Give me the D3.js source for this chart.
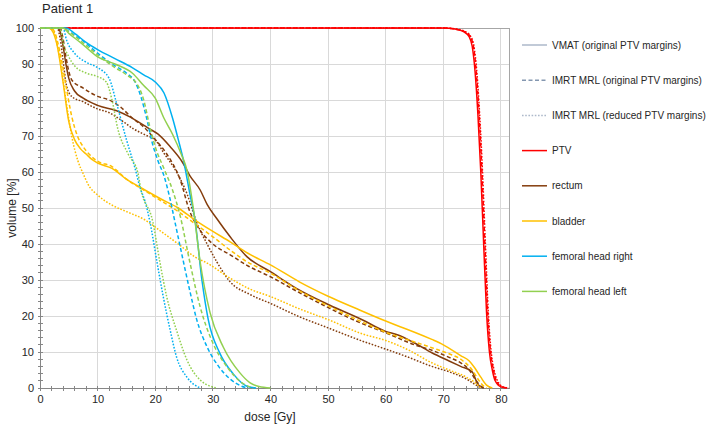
<!DOCTYPE html>
<html><head><meta charset="utf-8">
<script src="https://cdn.jsdelivr.net/npm/d3@7"></script>
<style>
body{margin:0;background:#fff;}
svg text{font-family:"Liberation Sans",Arial,sans-serif;fill:#262626;}
</style></head>
<body><svg id="c" width="710" height="429"></svg>
<script>
// ---- data: [dose Gy, volume %] ----
const ptvVmat    = [[0,100],[70,100],[72,99.7],[73.5,99],[74.5,97.5],[75,95],[75.5,88],[76,76],[76.5,60],[77,40],[77.5,21],[78,10],[78.5,5],[79,2],[80,0.3],[81,0]];
const ptvImrt    = [[0,100],[70,100],[72,99.7],[73.7,99],[74.7,97.5],[75.2,95],[75.7,88],[76.2,76],[76.7,60],[77.2,40],[77.7,21],[78.2,10],[78.7,5],[79.2,2],[80.2,0.3],[81.2,0]];
const ptvRed     = [[0,100],[70,100],[72.2,99.7],[73.8,99],[74.8,97.5],[75.3,95],[75.8,88],[76.3,76],[76.8,60],[77.3,40],[77.8,21],[78.3,10],[78.8,5],[79.4,2],[80.4,0.3],[81.4,0]];

const rectumVmat = [[0,100],[3,100],[3.5,99],[4,95],[4.5,90],[5,86],[6,82.5],[7.5,80.5],[10,78.5],[13.3,77],[15.6,75.3],[17,74],[19,72],[20.5,70.5],[22.6,67],[24.8,62.5],[26,59],[27.8,55],[29,51],[30.7,47],[33,42],[35.9,36.5],[40,32.3],[44.5,27.7],[50.3,23],[56,18.9],[60,15.7],[62,14.8],[65,12.5],[68,9.8],[71,7.5],[73,6],[75,4.5],[76,1],[77,0]];
const rectumImrt = [[0,100],[3.5,100],[4,97],[4.5,92],[5,88],[5.5,85.6],[7.5,83.3],[10,81],[12,80],[14,78],[16,75],[18,72.5],[20,69],[22,65],[24.3,58],[26,49],[27.5,44.5],[30,40],[33,37],[36,34],[40,30.9],[45,26.5],[50.3,22.1],[55,18.5],[60.2,15.2],[65,12],[68,10.5],[71,8.5],[73,7],[74.5,5],[75.5,2.5],[76.5,0.5],[77,0]];
const rectumRed  = [[0,100],[3,100],[3.5,97],[4,91],[4.6,84],[5.5,81],[7.5,79.5],[10,77.5],[12,76.5],[14,74.5],[16.2,72],[18,70.5],[20.2,68.5],[21.4,65.5],[23.7,60],[25.5,54],[27.2,46],[29,40],[30.7,35],[33,29.5],[36.4,26],[40,23.5],[45,19.8],[50,16.7],[56,13],[60,10.8],[64,8.5],[68,6],[71,4.5],[74,2.5],[75.5,1],[76.5,0]];

const bladderVmat = [[0,100],[1.5,100],[2,99.5],[3,95],[4,85],[5,74],[6,69],[7,66.5],[8,65],[9,63.5],[10,62.5],[12.5,61],[15,58],[18.2,55],[21,52.5],[24,50],[26.6,47],[30,43.5],[33,40.6],[36,37.5],[40,34.2],[45,29.5],[50,25.5],[55,22],[60,18.6],[62.5,17],[65,15.5],[68,13.5],[70,12],[73,9],[74.5,7.5],[75.5,5.5],[76.5,3],[77.5,0.8],[78.5,0]];
const bladderImrt = [[0,100],[2,100],[2.5,99],[3.5,93],[4.5,84],[5.5,75.5],[6.5,70],[7.5,67],[8.5,65],[10,63],[12.5,61.5],[15,58],[18,55],[21,52],[24,49],[27,45.5],[30,42],[33,38.3],[36,35],[40,31.9],[45,27],[50,22.8],[55,19],[60,15.5],[65,12.8],[68,11.2],[71,9.5],[73,8],[75,5],[76,2.5],[77,0.5],[77.5,0]];
const bladderRed  = [[0,100],[2,100],[2.5,98.5],[3.5,91],[4.5,80],[5.5,70],[6.6,63],[7.5,59.5],[8.4,56.4],[10,53.6],[12.5,50.8],[15,49],[18.2,46.7],[21,43.5],[24,40],[26.9,36.4],[29,34.7],[33,30.5],[36.4,27.5],[40,25.4],[45,22],[50,19],[56,15],[60,13.2],[64,10.5],[68,7],[71,5],[74,3],[75.5,1.5],[76.5,0]];

const femRVmat = [[0,100],[4.5,100],[6,98.5],[8,96],[10,94],[13,91.5],[16,89],[18,87],[20,85],[21.5,82],[23,75],[24,69],[25,62.5],[26,54],[26.9,46.7],[28.1,30],[29.2,19],[31.2,9.7],[33.5,4],[35.9,0.5],[37.5,0]];
const femRImrt = [[0,100],[4,100],[5,99],[7,97],[10,93],[13,89.5],[15,87.5],[16.5,85],[17.5,81],[18.5,75],[19.5,68],[20.5,63],[21.5,59],[22.5,53],[23.5,45.5],[24.5,38],[26,27],[27.2,19],[29,11.4],[31,6],[33,2.5],[35,0.5],[36,0]];
const femRRed  = [[0,100],[4,100],[4.6,96.7],[6,93],[8,90.5],[10,89],[12,86],[13.3,79],[15,69],[16.5,61],[17.4,55.5],[18.2,52],[19.1,46],[20.3,35],[21.4,25.3],[22.6,16],[23.7,8.6],[25.5,3],[27.8,0]];

const femLVmat = [[0,100],[4,100],[5,98.5],[7,96],[10,92],[13,90],[16,87.5],[18,84],[20,80.5],[21.5,75],[23,70.5],[24.5,65],[25.5,60.5],[26.6,50],[27.8,35],[29.5,21],[31.8,11.4],[34.7,4.2],[36.4,1.5],[38,0.4],[40,0]];
const femLImrt = [[0,100],[4,100],[5,99],[7,96.5],[10,92.5],[13,89],[15,87],[17,84],[18,80],[19,73],[20,67],[21.5,61],[23,55],[24.3,48],[26,35],[27.8,22.5],[30,12.5],[32.5,5.8],[35,1.5],[37,0]];
const femLRed  = [[0,100],[3.5,100],[4,96],[5,92],[6,89.5],[8,87.5],[10,86.5],[11.5,85],[12.5,80],[13.5,72],[15.3,65],[17,59.7],[17.4,56],[19.6,46],[20.8,35],[22,25.3],[23.7,16],[25.5,7.8],[27.8,2.2],[30.7,0]];

const xTicks = [0,10,20,30,40,50,60,70,80];
const yTicks = [0,10,20,30,40,50,60,70,80,90,100];
const legendLabels = ["VMAT (original PTV margins)","IMRT MRL (original PTV margins)","IMRT MRL (reduced PTV margins)","PTV","rectum","bladder","femoral head right","femoral head left"];
const structureColors = {PTV:"#FF0000", rectum:"#843C0C", bladder:"#FFC000", femR:"#00B0F0", femL:"#92D050"};

const series = [
  {d:ptvVmat,c:"PTV",s:"solid"},{d:ptvImrt,c:"PTV",s:"dash"},{d:ptvRed,c:"PTV",s:"dot"},
  {d:rectumVmat,c:"rectum",s:"solid"},{d:rectumImrt,c:"rectum",s:"dash"},{d:rectumRed,c:"rectum",s:"dot"},
  {d:bladderVmat,c:"bladder",s:"solid"},{d:bladderImrt,c:"bladder",s:"dash"},{d:bladderRed,c:"bladder",s:"dot"},
  {d:femRVmat,c:"femR",s:"solid"},{d:femRImrt,c:"femR",s:"dash"},{d:femRRed,c:"femR",s:"dot"},
  {d:femLVmat,c:"femL",s:"solid"},{d:femLImrt,c:"femL",s:"dash"},{d:femLRed,c:"femL",s:"dot"}
];
const dashes = {solid:null, dash:"4,2.5", dot:"1.6,1.6"};

const svg = d3.select("#c");
const L=40, R=509.6, T=28, B=388;
const x = d3.scaleLinear().domain([0,81.5]).range([L,R]);
const y = d3.scaleLinear().domain([0,100]).range([B,T]);

// gridlines
svg.append("g").selectAll("line").data(xTicks.filter(v=>v>0)).join("line")
  .attr("x1",d=>x(d)).attr("x2",d=>x(d)).attr("y1",T).attr("y2",B)
  .attr("stroke","#d9d9d9").attr("stroke-width",1).attr("shape-rendering","crispEdges");
svg.append("g").selectAll("line").data(yTicks.filter(v=>v>0)).join("line")
  .attr("x1",L).attr("x2",R).attr("y1",d=>y(d)).attr("y2",d=>y(d))
  .attr("stroke","#d9d9d9").attr("stroke-width",1).attr("shape-rendering","crispEdges");
// border top/right
svg.append("path").attr("d",`M${L},${T}H${R}V${B}`).attr("fill","none")
  .attr("stroke","#a6a6a6").attr("stroke-width",1).attr("shape-rendering","crispEdges");

// minor ticks
const minorX = d3.range(0,82,2), minorY = d3.range(0,101,2);
svg.append("g").selectAll("line").data(minorX).join("line")
  .attr("x1",d=>x(d)).attr("x2",d=>x(d)).attr("y1",B-2.5).attr("y2",B+2.5)
  .attr("stroke","#868686").attr("shape-rendering","crispEdges");
svg.append("g").selectAll("line").data(minorY).join("line")
  .attr("y1",d=>y(d)).attr("y2",d=>y(d)).attr("x1",L-2.5).attr("x2",L+2.5)
  .attr("stroke","#868686").attr("shape-rendering","crispEdges");

// axes
const xAxis = svg.append("g").attr("transform",`translate(0,${B})`)
  .call(d3.axisBottom(x).tickValues(xTicks).tickSize(0).tickPadding(7));
const yAxis = svg.append("g").attr("transform",`translate(${L},0)`)
  .call(d3.axisLeft(y).tickValues(yTicks).tickSize(0).tickPadding(6));
[xAxis,yAxis].forEach(a=>{
  a.select(".domain").attr("stroke","#868686").attr("shape-rendering","crispEdges");
  a.selectAll("text").attr("font-size","11px").attr("fill","#262626").style("font-family","'Liberation Sans',Arial,sans-serif");
});
xAxis.select(".domain").attr("d",`M${L},0H${R}`);

// curves
const line = d3.line().x(d=>x(d[0])).y(d=>y(d[1])).curve(d3.curveMonotoneX);
svg.append("g").selectAll("path").data(series).join("path")
  .attr("d",d=>line(d.d)).attr("fill","none")
  .attr("stroke",d=>structureColors[d.c]).attr("stroke-width",1.5)
  .attr("stroke-dasharray",d=>dashes[d.s]);

// titles
svg.append("text").attr("x",42).attr("y",13).attr("font-size","13px").text("Patient 1");
svg.append("text").attr("x",270).attr("y",421).attr("text-anchor","middle").attr("font-size","12px").text("dose [Gy]");
svg.append("text").attr("transform","translate(16,208) rotate(-90)").attr("text-anchor","middle").attr("font-size","12px").text("volume [%]");

// legend
const legendColors = ["#ADB9CA","#8497B0","#ADB9CA",structureColors.PTV,structureColors.rectum,structureColors.bladder,structureColors.femR,structureColors.femL];
const legendStyles = ["solid","dash","dot","solid","solid","solid","solid","solid"];
const lg = svg.append("g").selectAll("g").data(legendLabels).join("g")
  .attr("transform",(d,i)=>`translate(522,${45+i*35.2})`);
lg.append("line").attr("x1",0).attr("x2",25).attr("y1",0).attr("y2",0)
  .attr("stroke",(d,i)=>legendColors[i]).attr("stroke-width",1.5)
  .attr("stroke-dasharray",(d,i)=>dashes[legendStyles[i]]);
lg.append("text").attr("x",30).attr("y",3.5).attr("font-size","10px").text(d=>d);
</script></body></html>
